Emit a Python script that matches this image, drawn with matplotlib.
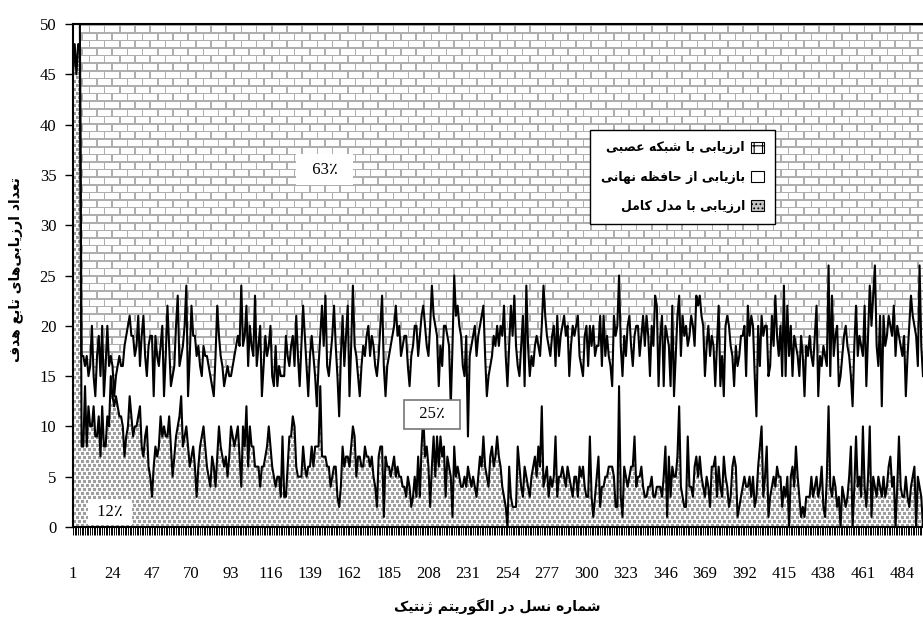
import numpy as np
import matplotlib
matplotlib.use("Agg")
import matplotlib.pyplot as plt
from matplotlib.patches import Patch
from matplotlib.font_manager import FontProperties

# =================================================================
# DATA (one value per generation)
# =================================================================
# bottom line: evaluations with the full model
full_model = [
    45, 48, 45, 48, 48,
    8, 8, 14, 8, 12, 10, 10, 12, 9, 9, 11, 7, 12, 8, 8, 11, 10, 15, 13, 12,
    13, 12, 11, 11, 10, 7, 9, 10, 13, 11, 9, 10, 10, 11, 12, 8, 7, 9, 10, 6,
    5, 3, 6, 8, 7, 8, 11, 9, 10, 9, 9, 11, 8, 5, 7, 9, 10, 11, 13, 8,
    9, 10, 8, 6, 7, 8, 6, 3, 6, 8, 9, 10, 8, 6, 5, 4, 7, 6, 4, 7,
    10, 8, 7, 6, 7, 5, 7, 10, 9, 8, 9, 10, 7, 4, 10,
    8, 12, 6, 10, 8, 8, 6, 6, 6, 4,
    6, 6, 7, 8, 10, 8, 6, 5, 4, 5,
    5, 3, 9, 3, 3, 6, 9, 9, 11, 10,
    6, 5, 5, 5, 8, 6, 5, 6, 6, 8,
    6, 8, 8, 8, 14, 7, 7, 7, 6, 6,
    4, 5, 6, 6, 3, 2, 4, 8, 6, 7,
    7, 6, 8, 10, 9, 5, 7, 7, 6, 6,
    8, 7, 7, 6, 7, 5, 4, 2, 7, 8,
    8, 1, 7, 6, 6, 5, 6, 7, 5, 6,
    5, 5, 4, 4, 3, 5, 4, 2, 3, 5,
    3, 7, 3, 8, 11, 7, 8, 6, 2, 6,
    9, 5, 9, 6, 9, 7, 8, 3, 7, 6,
    5, 1, 8, 5, 6, 5, 4, 4, 5, 4,
    6, 5, 4, 5, 4, 3, 5, 7, 6, 9,
    6, 5, 4, 7, 8, 6, 7, 9, 7, 6,
    4, 3, 2, 0, 6, 3, 2, 2, 2, 8,
    6, 4, 3, 6, 5, 4, 3, 5, 6, 7,
    5, 8, 6, 12, 4, 5, 6, 3, 5, 4,
    5, 9, 3, 5, 5, 6, 5, 4, 6, 5,
    4, 3, 5, 5, 3, 6, 5, 6, 4, 3,
    3, 9, 3, 1, 3, 5, 7, 2, 4, 4,
    5, 5, 6, 6, 6, 5, 2, 2, 14, 3,
    1, 6, 5, 4, 5, 6, 6, 9, 4, 5,
    5, 6, 4, 3, 3, 4, 4, 5, 3, 3,
    4, 4, 4, 3, 5, 8, 1, 7, 3, 6,
    5, 5, 7, 12, 4, 3, 2, 2, 9, 4,
    4, 3, 6, 7, 5, 7, 5, 4, 3, 5,
    4, 2, 6, 6, 7, 3, 6, 4, 3, 7,
    5, 4, 2, 3, 6, 7, 6, 1, 2, 3,
    4, 5, 4, 4, 5, 3, 5, 2, 3, 6,
    8, 10, 3, 5, 8, 1, 3, 4, 5, 4,
    6, 5, 5, 2, 4, 3, 5, 0, 5, 6,
    4, 8, 5, 3, 1, 2, 1, 3, 3, 3,
    5, 3, 4, 5, 3, 4, 6, 2, 1, 5,
    12, 4, 3, 5, 4, 2, 3, 0, 4, 3,
    2, 3, 5, 8, 0, 4, 9, 4, 5, 3,
    10, 4, 2, 5, 10, 1, 5, 4, 3, 5,
    4, 3, 5, 3, 4, 6, 7, 4, 5, 0,
    4, 9, 4, 3, 3, 5, 3, 2, 4, 5,
    6, 0, 5, 4, 3, 0,
]

# upper line: full model + cache (remainder up to 50 = neural network)
full_plus_cache = [
    50, 50, 50, 50, 50,
    17, 17, 16, 17, 15, 16, 20, 15, 13, 17, 19, 15, 20, 13, 16, 20, 16, 17, 16, 13,
    15, 16, 17, 16, 16, 18, 19, 20, 21, 19, 19, 17, 18, 21, 16, 19, 21, 17, 15, 18,
    19, 19, 13, 19, 17, 16, 18, 20, 13, 17, 22, 18, 14, 15, 16, 20, 23, 16, 17, 18,
    20, 24, 13, 17, 22, 19, 19, 17, 18, 16, 15, 18, 17, 17, 16, 15, 14, 13, 17, 22,
    19, 17, 16, 14, 15, 16, 15, 15, 16, 17, 18, 19, 18, 24, 18,
    19, 22, 16, 20, 18, 17, 23, 16, 18, 20,
    13, 16, 19, 17, 18, 20, 15, 14, 18, 14,
    16, 15, 15, 15, 19, 17, 16, 18, 19, 16,
    21, 17, 14, 18, 22, 19, 16, 13, 17, 19,
    17, 15, 12, 16, 19, 22, 18, 23, 16, 15,
    17, 19, 22, 18, 15, 11, 17, 21, 16, 19,
    22, 13, 18, 24, 18, 17, 15, 13, 16, 18,
    17, 19, 20, 17, 19, 18, 16, 15, 17, 20,
    23, 16, 13, 16, 17, 18, 19, 20, 22, 19,
    20, 17, 18, 19, 19, 16, 14, 17, 18, 20,
    20, 17, 19, 21, 22, 20, 18, 17, 20, 24,
    21, 20, 19, 14, 18, 16, 20, 20, 19, 18,
    12, 18, 25, 21, 22, 20, 19, 16, 15, 19,
    9, 17, 18, 19, 20, 17, 19, 20, 21, 22,
    17, 13, 15, 16, 17, 19, 18, 20, 18, 20,
    19, 22, 17, 14, 18, 22, 19, 23, 18, 16,
    15, 18, 21, 14, 24, 18, 15, 17, 16, 18,
    19, 18, 17, 20, 24, 21, 19, 18, 17, 19,
    20, 16, 21, 17, 19, 20, 21, 19, 20, 15,
    18, 20, 19, 20, 21, 17, 16, 15, 19, 20,
    16, 20, 18, 20, 17, 18, 18, 21, 16, 21,
    17, 19, 17, 16, 14, 21, 19, 20, 25, 18,
    15, 19, 17, 20, 21, 18, 16, 19, 20, 20,
    17, 19, 21, 18, 21, 19, 15, 20, 18, 23,
    22, 14, 19, 21, 14, 20, 19, 18, 14, 22,
    13, 17, 21, 23, 17, 21, 19, 20, 18, 19,
    21, 20, 18, 23, 22, 23, 21, 20, 15, 18,
    20, 17, 19, 18, 14, 18, 22, 14, 17, 13,
    20, 21, 20, 18, 17, 14, 18, 16, 17, 19,
    19, 20, 15, 22, 19, 21, 20, 15, 11, 20,
    16, 21, 19, 20, 20, 15, 16, 21, 18, 23,
    19, 17, 20, 15, 24, 15, 22, 17, 20, 15,
    19, 18, 17, 15, 19, 17, 13, 18, 17, 19,
    17, 16, 19, 22, 13, 17, 16, 18, 17, 16,
    26, 15, 23, 17, 19, 20, 14, 15, 17, 19,
    20, 18, 17, 15, 12, 18, 22, 17, 19, 18,
    17, 22, 14, 19, 24, 20, 23, 26, 18, 16,
    21, 12, 21, 18, 19, 21, 20, 19, 22, 17,
    20, 19, 18, 17, 19, 13, 17, 20, 23, 21,
    20, 19, 16, 26, 18, 15,
]

TOTAL = 50
x_ticks = list(range(1, 497, 23))
y_ticks = list(range(0, 51, 5))

legend_labels = ['ارزیابی با شبکه عصبی', 'بازیابی از حافظه نهانی', 'ارزیابی با مدل کامل']
share_labels = ['63٪', '25٪', '12٪']
x_title = 'شماره نسل در الگوریتم ژنتیک'
y_title = 'تعداد ارزیابی‌های تابع هدف'

# =================================================================
# PERSIAN SHAPING (matplotlib has no bidi / arabic joining)
# =================================================================
FORMS = {
    '\u0627': ('\uFE8D', '\uFE8E', None, None),
    '\u0628': ('\uFE8F', '\uFE90', '\uFE91', '\uFE92'),
    '\u062A': ('\uFE95', '\uFE96', '\uFE97', '\uFE98'),
    '\u062D': ('\uFEA1', '\uFEA2', '\uFEA3', '\uFEA4'),
    '\u062F': ('\uFEA9', '\uFEAA', None, None),
    '\u0631': ('\uFEAD', '\uFEAE', None, None),
    '\u0632': ('\uFEAF', '\uFEB0', None, None),
    '\u0698': ('\uFB8A', '\uFB8B', None, None),
    '\u0633': ('\uFEB1', '\uFEB2', '\uFEB3', '\uFEB4'),
    '\u0634': ('\uFEB5', '\uFEB6', '\uFEB7', '\uFEB8'),
    '\u0635': ('\uFEB9', '\uFEBA', '\uFEBB', '\uFEBC'),
    '\u0638': ('\uFEC5', '\uFEC6', '\uFEC7', '\uFEC8'),
    '\u0639': ('\uFEC9', '\uFECA', '\uFECB', '\uFECC'),
    '\u0641': ('\uFED1', '\uFED2', '\uFED3', '\uFED4'),
    '\u06A9': ('\uFB8E', '\uFB8F', '\uFB90', '\uFB91'),
    '\u0643': ('\uFED9', '\uFEDA', '\uFEDB', '\uFEDC'),
    '\u06AF': ('\uFB92', '\uFB93', '\uFB94', '\uFB95'),
    '\u0644': ('\uFEDD', '\uFEDE', '\uFEDF', '\uFEE0'),
    '\u0645': ('\uFEE1', '\uFEE2', '\uFEE3', '\uFEE4'),
    '\u0646': ('\uFEE5', '\uFEE6', '\uFEE7', '\uFEE8'),
    '\u0647': ('\uFEE9', '\uFEEA', '\uFEEB', '\uFEEC'),
    '\u0648': ('\uFEED', '\uFEEE', None, None),
    '\u06CC': ('\uFBFC', '\uFBFD', '\uFEF3', '\uFEF4'),
    '\u064A': ('\uFEF1', '\uFEF2', '\uFEF3', '\uFEF4'),
}


def shape_fa(text):
    """Join persian letters into presentation forms and flip to visual order."""
    out = []
    n = len(text)
    for i, c in enumerate(text):
        if c not in FORMS:
            if c != '\u200c':
                out.append(c)
            continue
        prev = text[i - 1] if i > 0 else None
        nxt = text[i + 1] if i + 1 < n else None
        join_prev = prev in FORMS and FORMS[prev][2] is not None
        join_next = nxt in FORMS and FORMS[c][2] is not None
        iso, fin, ini, med = FORMS[c]
        if join_prev and join_next:
            out.append(med)
        elif join_prev:
            out.append(fin)
        elif join_next:
            out.append(ini)
        else:
            out.append(iso)
    return ''.join(reversed(out))


# =================================================================
# PATTERNS
# =================================================================
def brick_texture(h, w):
    yy, xx = np.mgrid[0:h, 0:w].astype(float)
    row_h, brick_w = 7.6, 15.2
    row = np.floor(yy / row_h)
    hline = (yy % row_h) < 1.5
    vline = ((xx + (row % 2) * brick_w / 2) % brick_w) < 1.5
    return np.where(hline | vline, 0.68, 0.99)


def stipple_texture(h, w):
    yy, xx = np.mgrid[0:h, 0:w]
    band = yy // 4
    on_row = (yy % 4) < 3
    on_col = ((2 * xx + (band % 2) * 5) % 10) < 6
    return np.where(on_row & on_col, 0.62, 0.98)


# =================================================================
# FIGURE
# =================================================================
gens = np.arange(1, len(full_model) + 1)
full = np.array(full_model, dtype=float)
upper = np.array(full_plus_cache, dtype=float)

fig = plt.figure(figsize=(9.23, 6.21), dpi=100)
ax_l, ax_b = 73 / 923, 1 - 527 / 621
ax_w, ax_h = (923 - 73) / 923, (527 - 24) / 621
ax = fig.add_axes([ax_l, ax_b, ax_w, ax_h])

extent = [gens[0], gens[-1], 0, TOTAL]
ax.imshow(brick_texture(503, 850), cmap='gray', vmin=0, vmax=1, extent=extent,
          aspect='auto', interpolation='nearest', zorder=0)

# cache area (white band)
ax.fill_between(gens, full, upper, facecolor='white', edgecolor='none', zorder=1)

# full model area (stipple, clipped to polygon)
fb = ax.fill_between(gens, 0, full, facecolor='none', edgecolor='none', zorder=1)
stip = ax.imshow(stipple_texture(503, 850), cmap='gray', vmin=0, vmax=1, extent=extent,
                 aspect='auto', interpolation='nearest', zorder=1.5)
stip.set_clip_path(fb.get_paths()[0], ax.transData)

ax.plot(gens, full, color='black', lw=1.5, zorder=3)
ax.plot(gens, upper, color='black', lw=1.5, zorder=3)

ax.set_xlim(gens[0], gens[-1])
ax.set_ylim(0, TOTAL)

serif = ['Liberation Serif', 'DejaVu Sans']
ax.set_xticks(x_ticks)
ax.set_xticks(gens, minor=True)
ax.set_xticklabels([str(t) for t in x_ticks], family=serif, fontsize=12)
ax.set_yticks(y_ticks)
ax.set_yticklabels([str(t) for t in y_ticks], family=serif, fontsize=12)
ax.tick_params(axis='x', which='both', length=6, width=0.7, direction='out', pad=22)
ax.tick_params(axis='y', which='major', length=6, width=1.0, direction='out', pad=6)

for side in ['left', 'bottom', 'top']:
    ax.spines[side].set_linewidth(1.5)
    ax.spines[side].set_zorder(4)
ax.spines['right'].set_visible(False)

# share labels
ax.text(147.7, 35.5, '  ' + share_labels[0] + '  ', ha='center', va='center',
        family=serif, fontsize=12,
        bbox=dict(boxstyle='square,pad=0.45', facecolor='white', edgecolor='none'), zorder=5)
ax.text(210, 11.2, '  ' + share_labels[1] + '  ', ha='center', va='center',
        family=serif, fontsize=12,
        bbox=dict(boxstyle='square,pad=0.4', facecolor='white', edgecolor='#777777', lw=1.2),
        zorder=5)
ax.text(22.5, 1.5, ' ' + share_labels[2] + ' ', ha='center', va='center',
        family=serif, fontsize=12,
        bbox=dict(boxstyle='square,pad=0.3', facecolor='white', edgecolor='none'), zorder=5)

# legend
fa_bold = FontProperties(family='DejaVu Sans', weight='bold', size=10)
leg_font = FontProperties(family='DejaVu Sans', weight='bold', size=9)
plt.rcParams['hatch.color'] = '#555555'
plt.rcParams['hatch.linewidth'] = 0.8
handles = [
    Patch(facecolor='white', edgecolor='black', hatch='++', lw=0.8),
    Patch(facecolor='white', edgecolor='black', lw=0.8),
    Patch(facecolor='#c4c4c4', edgecolor='black', hatch='....', lw=0.8),
]
leg = ax.legend(handles, [shape_fa(s) for s in legend_labels], loc='upper right',
                bbox_to_anchor=(0.826, 0.789), markerfirst=False, fancybox=False,
                edgecolor='black', framealpha=1, prop=leg_font, handlelength=1.0,
                handleheight=1.0, labelspacing=1.3, borderpad=0.9, handletextpad=0.5,
                borderaxespad=0)
leg.get_frame().set_linewidth(1.0)
leg.set_zorder(6)

fig.text(497 / 923, 1 - 607 / 621, shape_fa(x_title), ha='center', va='center',
         fontproperties=fa_bold)
fig.text(16 / 923, 1 - 270 / 621, shape_fa(y_title), ha='center', va='center',
         rotation=90, fontproperties=fa_bold)

fig.savefig('out.png', dpi=100)
